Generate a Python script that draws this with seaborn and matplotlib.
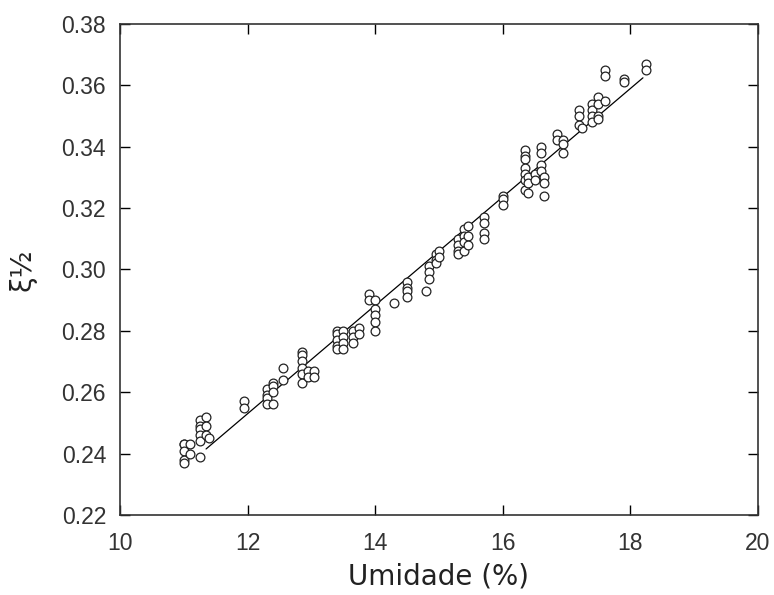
import matplotlib
matplotlib.use("Agg")
import matplotlib.pyplot as plt
import seaborn as sns
import pandas as pd

# Umidade (%) and xi^(1/2) readings
umidade = [
    11.0, 11.0, 11.0, 11.0, 11.0,
    11.1, 11.1,
    11.25, 11.25, 11.25, 11.25, 11.25, 11.25,
    11.35, 11.35, 11.35, 11.4,
    11.95, 11.95,
    12.3, 12.3, 12.3, 12.3,
    12.4, 12.4, 12.4, 12.4,
    12.55, 12.55,
    12.85, 12.85, 12.85, 12.85, 12.85, 12.85,
    12.95, 12.95, 13.05, 13.05,
    13.4, 13.4, 13.4, 13.4, 13.4,
    13.5, 13.5, 13.5, 13.5,
    13.65, 13.65, 13.65,
    13.75, 13.75,
    13.9, 13.9,
    14.0, 14.0, 14.0, 14.0, 14.0,
    14.3,
    14.5, 14.5, 14.5, 14.5,
    14.8,
    14.85, 14.85, 14.85,
    14.95, 14.95, 14.95,
    15.0, 15.0,
    15.3, 15.3, 15.3, 15.3,
    15.4, 15.4, 15.4, 15.4,
    15.45, 15.45, 15.45,
    15.7, 15.7, 15.7, 15.7,
    16.0, 16.0, 16.0,
    16.35, 16.35, 16.35, 16.35, 16.35, 16.35, 16.35,
    16.4, 16.4, 16.4,
    16.5, 16.5,
    16.6, 16.6, 16.6, 16.6,
    16.65, 16.65, 16.65,
    16.85, 16.85,
    16.95, 16.95, 16.95,
    17.2, 17.2, 17.2, 17.25,
    17.4, 17.4, 17.4, 17.4,
    17.5, 17.5, 17.5, 17.5,
    17.6, 17.6, 17.6,
    17.9, 17.9,
    18.25, 18.25,
]
xi_half = [
    0.243, 0.243, 0.241, 0.238, 0.237,
    0.243, 0.240,
    0.251, 0.249, 0.248, 0.246, 0.244, 0.239,
    0.252, 0.249, 0.246, 0.245,
    0.257, 0.255,
    0.261, 0.259, 0.258, 0.256,
    0.263, 0.262, 0.260, 0.256,
    0.268, 0.264,
    0.273, 0.272, 0.270, 0.268, 0.266, 0.263,
    0.267, 0.265, 0.267, 0.265,
    0.280, 0.279, 0.277, 0.275, 0.274,
    0.280, 0.278, 0.276, 0.274,
    0.280, 0.278, 0.276,
    0.281, 0.279,
    0.292, 0.290,
    0.290, 0.287, 0.285, 0.283, 0.280,
    0.289,
    0.296, 0.294, 0.293, 0.291,
    0.293,
    0.301, 0.299, 0.297,
    0.305, 0.303, 0.302,
    0.306, 0.304,
    0.310, 0.308, 0.306, 0.305,
    0.313, 0.311, 0.309, 0.306,
    0.314, 0.311, 0.308,
    0.317, 0.315, 0.312, 0.310,
    0.324, 0.323, 0.321,
    0.339, 0.337, 0.336, 0.333, 0.331, 0.329, 0.326,
    0.330, 0.328, 0.325,
    0.331, 0.329,
    0.340, 0.338, 0.334, 0.332,
    0.330, 0.328, 0.324,
    0.344, 0.342,
    0.342, 0.341, 0.338,
    0.352, 0.350, 0.347, 0.346,
    0.354, 0.352, 0.350, 0.348,
    0.356, 0.354, 0.350, 0.349,
    0.365, 0.363, 0.355,
    0.362, 0.361,
    0.367, 0.365,
]

# fitted line end points
fit_x = [11.35, 18.2]
fit_y = [0.2415, 0.3624]

x_ticks = [10, 12, 14, 16, 18, 20]
y_ticks = [0.22, 0.24, 0.26, 0.28, 0.30, 0.32, 0.34, 0.36, 0.38]

sns.set_theme(style="white")
plt.rcParams['font.family'] = ['Liberation Sans', 'DejaVu Sans']

df = pd.DataFrame({"x": umidade, "y": xi_half})
fit = pd.DataFrame({"x": fit_x, "y": fit_y})

fig = plt.figure(figsize=(7.74, 5.95), dpi=100)
ax = fig.add_axes([0.155, 0.1345, 0.824, 0.8255])

sns.lineplot(data=fit, x="x", y="y", ax=ax, color="black", linewidth=0.9)
sns.scatterplot(data=df, x="x", y="y", ax=ax, marker="o", s=40,
                facecolor="white", edgecolor="#222222", linewidth=0.9, zorder=3)

ax.set_xlim(10, 20)
ax.set_ylim(0.22, 0.38)
ax.set_xticks(x_ticks)
ax.set_xticklabels([str(t) for t in x_ticks])
ax.set_yticks(y_ticks)
ax.set_yticklabels([f"{t:.2f}" for t in y_ticks])
ax.tick_params(direction="in", length=7, width=1, colors="black",
               labelsize=16.5, top=True, right=True, bottom=True, left=True)
ax.tick_params(axis="x", pad=12)
ax.tick_params(axis="y", pad=10)
for lbl in ax.get_xticklabels() + ax.get_yticklabels():
    lbl.set_color("#333333")
for sp in ax.spines.values():
    sp.set_color("#333333")
    sp.set_linewidth(1.2)

ax.set_xlabel("Umidade (%)", fontsize=20, family=["DejaVu Sans"], color="#222222", labelpad=6)
ax.set_ylabel("ξ½", fontsize=20, family=["DejaVu Sans"], color="#222222", labelpad=18)

fig.savefig("out.png", dpi=100)
